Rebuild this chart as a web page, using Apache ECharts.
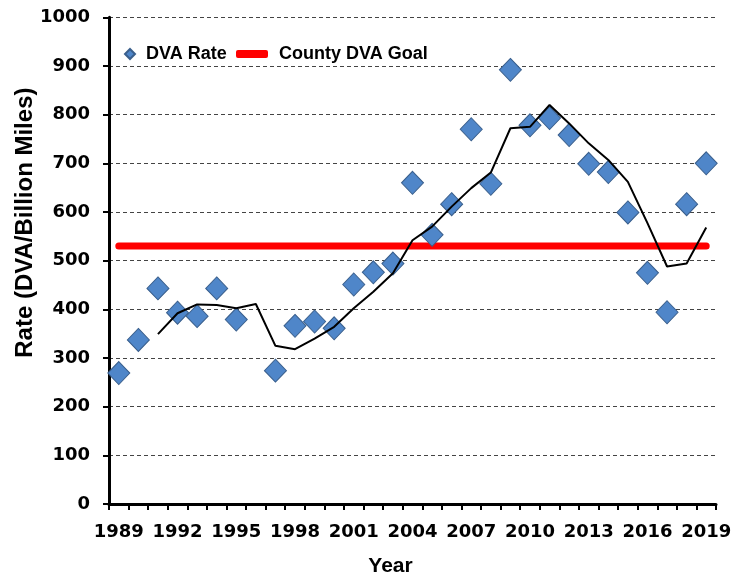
<!DOCTYPE html>
<html>
<head>
<meta charset="utf-8">
<script src="https://cdn.jsdelivr.net/npm/echarts@6/dist/echarts.min.js"></script>
<style>
html,body{margin:0;padding:0;background:#fff;}
#chart{width:731px;height:577px;}
</style>
</head>
<body>
<div id="chart"></div>
<script>
const years = ['1989','1990','1991','1992','1993','1994','1995','1996','1997','1998','1999','2000','2001','2002','2003','2004','2005','2006','2007','2008','2009','2010','2011','2012','2013','2014','2015','2016','2017','2018','2019'];
const dvaRate = [269,337,443,393,386,443,379,null,274,366,375,361,451,476,494,660,553,616,770,658,892,778,793,758,699,682,599,475,394,616,700];
const trend = [null,null,349,392,410,409,402,411,325,318,340,364,402,436,474,542,570,611,649,681,772,775,820,782,741,707,662,577,488,494,568];
const goalValue = 530;
const yTicks = [0,100,200,300,400,500,600,700,800,900,1000];

const chart = echarts.init(document.getElementById('chart'), null, {renderer:'canvas'});
const boldArial = {fontFamily:'Liberation Sans, Arial, sans-serif', fontWeight:'bold', color:'#000'};
const tickFont = {fontFamily:'DejaVu Sans', fontWeight:'bold', fontSize:18, color:'#000'};

chart.setOption({
  animation:false,
  backgroundColor:'#fff',
  grid:{left:109, right:15, top:17.3, bottom:73, containLabel:false, outerBoundsMode:'none'},
  legend:[
    {data:[{name:'DVA Rate', icon:'diamond'}], left:119, top:40, itemWidth:10, itemHeight:10, itemGap:0,
     textStyle:Object.assign({fontSize:18, padding:[0,0,0,6]}, boldArial)},
    {data:[{name:'County DVA Goal', icon:'roundRect'}], left:231, top:40, itemWidth:32, itemHeight:8, itemGap:0,
     itemStyle:{color:'#FF0000', borderWidth:0},
     textStyle:Object.assign({fontSize:18, padding:[0,0,0,6]}, boldArial)}
  ],
  xAxis:{
    type:'category', data:years, boundaryGap:true,
    name:'Year', nameLocation:'middle', nameGap:52, nameMoveOverlap:false,
    nameTextStyle:Object.assign({fontSize:21, padding:[0,44,0,0]}, boldArial),
    axisLine:{lineStyle:{color:'#000', width:3}},
    axisTick:{show:true, interval:0, length:6, lineStyle:{color:'#000', width:2}},
    axisLabel:Object.assign({interval:2, margin:19}, tickFont),
    splitLine:{show:false}
  },
  yAxis:{
    type:'value', min:yTicks[0], max:yTicks[yTicks.length-1], interval:100,
    name:'Rate (DVA/Billion Miles)', nameLocation:'middle', nameGap:72, nameRotate:90, nameMoveOverlap:false,
    nameTextStyle:Object.assign({fontSize:24, padding:[0,0,0,76]}, boldArial),
    axisLine:{show:true, lineStyle:{color:'#000', width:3}},
    axisTick:{show:true, length:6, lineStyle:{color:'#000', width:2}},
    axisLabel:Object.assign({margin:19, formatter:v=>String(v)}, tickFont),
    splitLine:{show:true, lineStyle:{color:'#444', width:1, type:[4,3]}}
  },
  series:[
    {name:'County DVA Goal', type:'line', data:years.map(()=>goalValue), symbol:'none', z:1,
     lineStyle:{color:'#FF0000', width:7, cap:'round'}, itemStyle:{color:'#FF0000'}},
    {name:'DVA Rate', type:'scatter', data:dvaRate.map(v=>v===null?'-':v), symbol:'diamond', symbolSize:[22,23], z:2,
     itemStyle:{color:'#4F86C9', borderColor:'#3A5F8C', borderWidth:1, opacity:1}},
    {name:'Trend', type:'line', data:trend.map(v=>v===null?'-':v), symbol:'none', z:3,
     lineStyle:{color:'#000', width:2}, itemStyle:{color:'#000'}}
  ]
});
</script>
</body>
</html>
